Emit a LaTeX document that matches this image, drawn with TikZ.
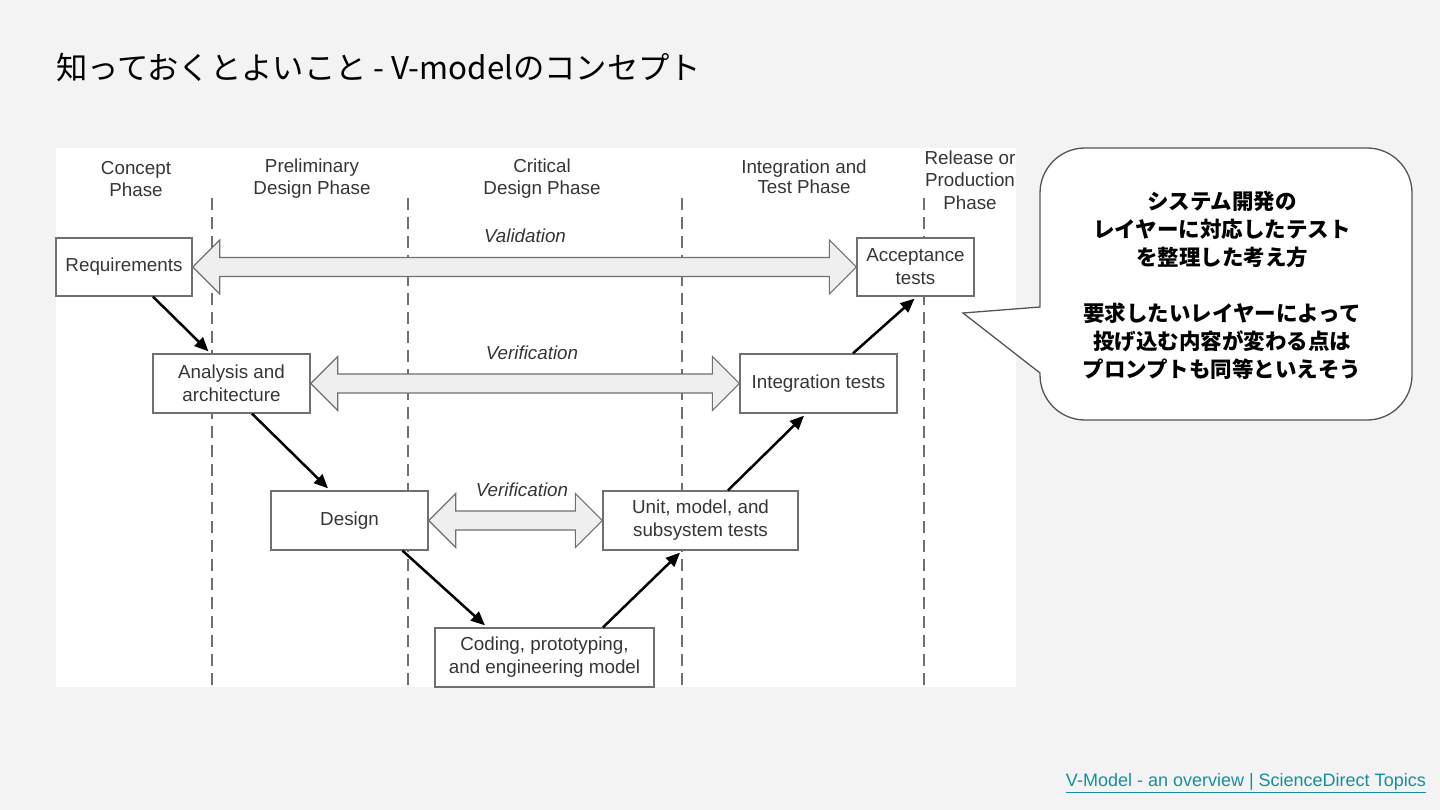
\documentclass[tikz,border=0pt]{standalone}
\usepackage{fontspec}
\setmainfont{Liberation Sans}
\newfontfamily\cjk{Noto Sans CJK JP}
\usetikzlibrary{arrows.meta,calc}
\definecolor{pagebg}{HTML}{F3F3F3}
\definecolor{txt}{HTML}{363636}
\definecolor{boxline}{HTML}{707070}
\definecolor{arrfill}{HTML}{EFEFEF}
\definecolor{linkc}{HTML}{15909A}
\definecolor{calloutline}{HTML}{555555}
\newcommand\dblarr[3]{%
  \draw[dblarrow] let \p1=(#1), \p2=(#2) in
    (\x1,\y1) -- (\x1+#3,\y1+27pt) -- (\x1+#3,\y1+9.5pt) -- (\x2-#3,\y1+9.5pt)
    -- (\x2-#3,\y1+27pt) -- (\x2,\y1) -- (\x2-#3,\y1-27pt) -- (\x2-#3,\y1-9.5pt)
    -- (\x1+#3,\y1-9.5pt) -- (\x1+#3,\y1-27pt) -- cycle;}
\begin{document}
\begin{tikzpicture}[x=1pt,y=-1pt,
  box/.style={draw=boxline, line width=1.3pt, fill=white, inner sep=0pt, align=center,
    text=txt, font=\fontsize{18.8}{23}\selectfont},
  phase/.style={align=center, text=txt, font=\fontsize{18.8}{22}\selectfont, inner sep=0pt},
  vlabel/.style={text=txt, font=\itshape\fontsize{18.8}{20}\selectfont, inner sep=0pt},
  phaseline/.style={draw=boxline, line width=1.2pt, dash pattern=on 12pt off 7pt},
  dblarrow/.style={draw=boxline, line width=1.2pt, fill=arrfill, line join=miter},
  flow/.style={draw=black, line width=2.5pt, -{Triangle[length=14pt,width=12pt]}},
  callout/.style={draw=calloutline, line width=1.3pt, fill=white}]
\useasboundingbox (0,0) rectangle (1440,810);
\fill[pagebg] (0,0) rectangle (1440,810);

% title
\node[anchor=west, inner sep=0pt, font=\cjk\fontsize{31.3}{36}\selectfont] (title) at (56,68)
  {知っておくとよいこと - V-modelのコンセプト};

% diagram background
\fill[white] (56,148) rectangle (1016,687);

% phase separators
\draw[phaseline] (212,198) -- (212,687);
\draw[phaseline] (408,198) -- (408,687);
\draw[phaseline] (682,198) -- (682,687);
\draw[phaseline] (924,198) -- (924,687);

% phase labels
\node[phase] (ph1) at (136,179) {Concept\\Phase};
\node[phase] (ph2) at (312,179) {Preliminary\\Design Phase};
\node[phase] (ph3) at (542,179) {Critical\\Design Phase};
\node[phase, font=\fontsize{18.8}{19.5}\selectfont] (ph4) at (804,177) {Integration and\\Test Phase};
\node[phase, font=\fontsize{18.8}{22.5}\selectfont] (ph5) at (970,180) {Release or\\Production\\Phase};

% boxes
\node[box, minimum width=136, minimum height=58] (req) at (124,267) {Requirements};
\node[box, minimum width=117, minimum height=58] (acc) at (915.5,267) {Acceptance\\tests};
\node[box, minimum width=157, minimum height=59] (ana) at (231.5,383.5) {Analysis and\\architecture};
\node[box, minimum width=157, minimum height=59] (int) at (818.5,383.5) {Integration tests};
\node[box, minimum width=157, minimum height=59] (des) at (349.5,520.5) {Design};
\node[box, minimum width=195, minimum height=59] (unit) at (700.5,520.5) {Unit, model, and\\subsystem tests};
\node[box, minimum width=219, minimum height=59] (cod) at (544.5,657.5) {Coding, prototyping,\\and engineering model};

% validation / verification arrows
\dblarr{req.east}{acc.west}{27pt}
\dblarr{ana.east}{int.west}{27pt}
\dblarr{des.east}{unit.west}{27pt}
\node[vlabel] (val) at (525,236) {Validation};
\node[vlabel] (ver1) at (532,353) {Verification};
\node[vlabel] (ver2) at (522,490) {Verification};

% flow arrows
\draw[flow] ($(req.south)+(29,0)$) -- ($(ana.north)+(-23,-2)$);
\draw[flow] ($(ana.south)+(20.5,0)$) -- ($(des.north)+(-21.5,-2)$);
\draw[flow] ($(des.south)+(53,0)$) -- ($(cod.north)+(-59.5,-2)$);
\draw[flow] ($(cod.north)+(58.5,0)$) -- ($(unit.south)+(-20.5,2)$);
\draw[flow] ($(unit.north)+(27.5,0)$) -- ($(int.south)+(-14.5,2)$);
\draw[flow] ($(int.north)+(34.5,0)$) -- ($(acc.south)+(-1,2)$);

% callout
\draw[callout] (1040,307) [rounded corners=45pt] -- (1040,148) -- (1412,148) -- (1412,420)
  -- (1040,420) [sharp corners] -- (1040,373) -- (963,313) -- cycle;
\node[align=center, inner sep=0pt, font=\cjk\bfseries\fontsize{21.5}{28}\selectfont] (note) at (1222,285)
  {システム開発の\\レイヤーに対応したテスト\\を整理した考え方\\[28pt]要求したいレイヤーによって\\投げ込む内容が変わる点は\\プロンプトも同等といえそう};

% source link
\node[anchor=east, inner sep=0pt, text=linkc, font=\fontsize{18}{20}\selectfont] (link) at (1426,783)
  {\underline{V-Model - an overview | ScienceDirect Topics}};
\end{tikzpicture}
\end{document}
